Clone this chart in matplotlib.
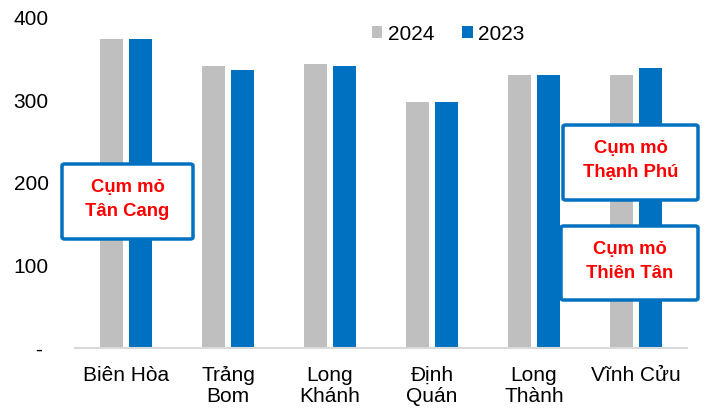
import matplotlib
matplotlib.use("Agg")
import matplotlib.pyplot as plt
import numpy as np
from matplotlib.patches import FancyBboxPatch

plt.rcParams['font.family'] = ['Liberation Sans', 'DejaVu Sans']

districts = ['Biên Hòa', 'Trảng\nBom', 'Long\nKhánh', 'Định\nQuán', 'Long\nThành', 'Vĩnh Cửu']
val_2024 = [374, 341, 344, 298, 331, 330]
val_2023 = [374, 337, 341, 298, 331, 339]
y_ticks = [0, 100, 200, 300, 400]
y_labels = ['- ', '100', '200', '300', '400']

grey = '#bfbfbf'
blue = '#0070c0'
W, H = 705, 408

fig = plt.figure(figsize=(7.05, 4.08), dpi=100)
ax = fig.add_axes([75 / W, 1 - 348 / H, 612 / W, (348 - 17.5) / H])

x = np.arange(len(districts))
bw = 0.225
off = 0.144
ax.bar(x - off, val_2024, width=bw, color=grey, label='2024')
ax.bar(x + off, val_2023, width=bw, color=blue, label='2023')

ax.set_xlim(-0.5, len(districts) - 0.5)
ax.set_ylim(0, 400)
ax.set_yticks(y_ticks)
ax.set_yticklabels(y_labels, fontsize=15)
ax.set_xticks(x)
ax.set_xticklabels(districts, fontsize=15, linespacing=1.15)
ax.tick_params(axis='y', length=0, pad=19)
ax.tick_params(axis='x', length=0, pad=13)

for s in ['top', 'right', 'left']:
    ax.spines[s].set_visible(False)
ax.spines['bottom'].set_color('#d9d9d9')
ax.spines['bottom'].set_linewidth(1.5)

fig.legend(*ax.get_legend_handles_labels(), loc='center left',
           bbox_to_anchor=(372 / W, 1 - 34 / H), ncol=2, frameon=False,
           fontsize=15, handlelength=0.5, handleheight=0.5, handletextpad=0.25,
           columnspacing=1.35, borderpad=0, borderaxespad=0)

# cluster annotation boxes (pixel coordinates of the figure)
boxes = [
    (62, 164, 193, 239, 'Cụm mỏ\nTân Cang'),
    (563, 125, 698, 200, 'Cụm mỏ\nThạnh Phú'),
    (561, 226, 698, 300, 'Cụm mỏ\nThiên Tân'),
]
for x0, y0, x1, y1, txt in boxes:
    fx0, fx1 = x0 / W, x1 / W
    fy0, fy1 = 1 - y1 / H, 1 - y0 / H
    p = FancyBboxPatch((fx0, fy0), fx1 - fx0, fy1 - fy0,
                       boxstyle='round,pad=0,rounding_size=0.004',
                       transform=fig.transFigure, facecolor='white',
                       edgecolor=blue, linewidth=2.5, zorder=5)
    fig.add_artist(p)
    fig.text((fx0 + fx1) / 2, (fy0 + fy1) / 2 + 0.004, txt, ha='center', va='center',
             color='#ff0000', fontsize=13.3, fontweight='bold',
             linespacing=1.55, zorder=6)

fig.savefig('out.png', dpi=100)
